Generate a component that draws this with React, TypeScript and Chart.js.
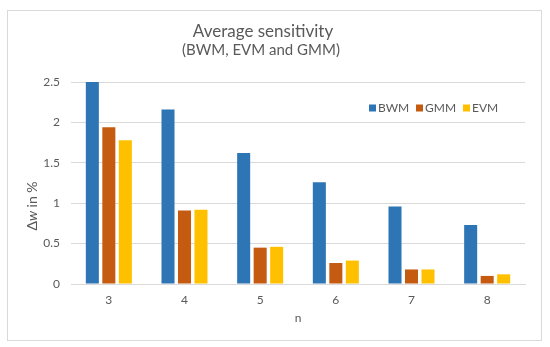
import React, { useEffect, useRef } from "react";
import { Chart, registerables } from "chart.js";

Chart.register(...registerables);

const categories = ["3", "4", "5", "6", "7", "8"];
const bwm = [2.5, 2.16, 1.62, 1.26, 0.96, 0.73];
const gmm = [1.94, 0.91, 0.45, 0.26, 0.18, 0.1];
const evm = [1.78, 0.92, 0.46, 0.29, 0.18, 0.12];
const seriesNames = ["BWM", "GMM", "EVM"];
const seriesColors = ["#2E75B6", "#C55A11", "#FFC000"];
const yTicks = { min: 0, max: 2.5, step: 0.5 };
const titleText = "Average sensitivity";
const subtitleText = "(BWM, EVM and GMM)";
const xTitle = "n";

const FONT = "Lato, 'Open Sans', sans-serif";
const GRAY = "#595959";

const decorPlugin = {
  id: "decor",
  beforeDraw(chart: any) {
    const ctx = chart.ctx;
    ctx.save();
    ctx.fillStyle = "#ffffff";
    ctx.fillRect(0, 0, chart.width, chart.height);
    ctx.strokeStyle = "#D9D9D9";
    ctx.lineWidth = 1;
    ctx.strokeRect(7.5, 10.5, 534, 330);
    ctx.restore();
  },
  afterDraw(chart: any) {
    const ctx = chart.ctx;
    ctx.save();
    ctx.fillStyle = GRAY;
    ctx.textAlign = "center";
    ctx.textBaseline = "middle";
    ctx.font = `17px ${FONT}`;
    ctx.fillText(titleText, 263, 32);
    ctx.font = `15px ${FONT}`;
    ctx.fillText(subtitleText, 261, 50);

    // y axis title: "Δw in %" with italic w
    ctx.translate(32, 206);
    ctx.rotate(-Math.PI / 2);
    const parts = [
      { t: "Δ", f: `14px ${FONT}` },
      { t: "w", f: `italic 14px ${FONT}` },
      { t: " in %", f: `14px ${FONT}` },
    ];
    let total = 0;
    for (const p of parts) {
      ctx.font = p.f;
      total += ctx.measureText(p.t).width;
    }
    let x = -total / 2;
    ctx.textAlign = "left";
    for (const p of parts) {
      ctx.font = p.f;
      ctx.fillText(p.t, x, 0);
      x += ctx.measureText(p.t).width;
    }
    ctx.restore();

    // legend
    ctx.save();
    ctx.font = `12px ${FONT}`;
    ctx.textBaseline = "middle";
    ctx.textAlign = "left";
    const ly = 108;
    chart.data.datasets.forEach((ds: any, i: number) => {
      const lx = 369 + i * 47;
      ctx.fillStyle = ds.backgroundColor;
      ctx.fillRect(lx, ly - 3.5, 7, 7);
      ctx.fillStyle = GRAY;
      ctx.fillText(ds.label, lx + 9, ly + 0.5);
    });
    ctx.restore();
  },
};

export default function App() {
  const ref = useRef<HTMLCanvasElement | null>(null);
  useEffect(() => {
    if (!ref.current) return;
    const data = [bwm, gmm, evm];
    const chart = new Chart(ref.current, {
      type: "bar",
      data: {
        labels: categories,
        datasets: seriesNames.map((name, i) => ({
          label: name,
          data: data[i],
          backgroundColor: seriesColors[i],
          borderWidth: 0,
          barPercentage: 0.79,
          categoryPercentage: 0.654,
        })),
      },
      options: {
        animation: false,
        responsive: true,
        maintainAspectRatio: false,
        layout: { padding: { top: 82, right: 25, left: 0, bottom: 0 } },
        plugins: {
          legend: { display: false },
          title: { display: false },
          tooltip: { enabled: false },
        },
        scales: {
          x: {
            grid: { display: false, drawTicks: false },
            border: { display: true, color: "#D9D9D9" },
            ticks: {
              color: GRAY,
              font: { family: FONT, size: 12 },
              padding: 9,
            },
            title: {
              display: true,
              text: xTitle,
              color: GRAY,
              font: { family: FONT, size: 12 },
              padding: { top: 0, bottom: 22 },
            },
            afterFit(scale: any) {
              scale.height = 63;
            },
          },
          y: {
            min: yTicks.min,
            max: yTicks.max,
            grid: { color: "#D9D9D9", drawTicks: false },
            border: { display: false },
            ticks: {
              stepSize: yTicks.step,
              color: GRAY,
              font: { family: FONT, size: 12 },
              padding: 11,
              callback: (v: any) => String(Number(v)),
            },
            afterFit(scale: any) {
              scale.width = 71;
            },
          },
        },
      },
      plugins: [decorPlugin],
    });
    return () => chart.destroy();
  }, []);
  return (
    <div style={{ position: "absolute", left: 0, top: 0, width: 550, height: 347 }}>
      <canvas ref={ref} />
    </div>
  );
}
